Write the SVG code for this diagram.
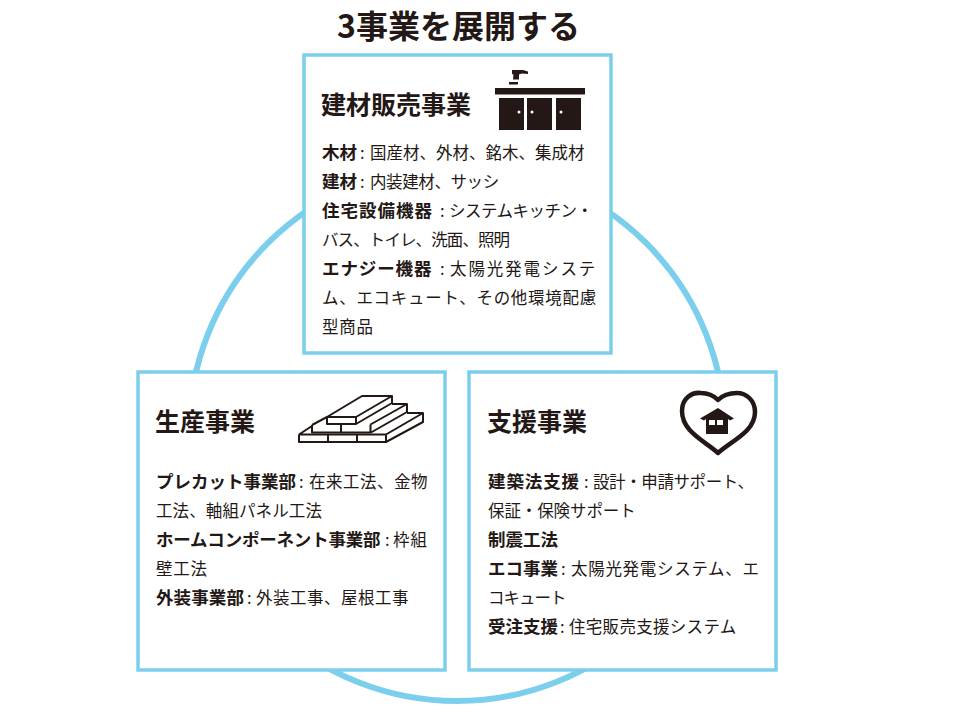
<svg xmlns="http://www.w3.org/2000/svg" width="960" height="720" viewBox="0 0 960 720">
<style>
text{font-family:"Noto Sans CJK JP","Noto Sans",sans-serif;fill:#231815}
.t{font-size:32px;font-weight:700}
.h{font-size:25px;font-weight:700}
.b{font-size:16.500px;font-weight:400}
.s{font-weight:700;font-size:17.500px}
.box{fill:#fff;stroke:#7ccfec;stroke-width:3.5}
.i{fill:none;stroke:#231815;stroke-width:2;stroke-linejoin:round}
</style>
<rect width="960" height="720" fill="#fff"/>
<text class="t" x="337" y="38">3事業を展開する</text>
<g id="connectors"><circle cx="457" cy="433" r="268" fill="none" stroke="#7ccfec" stroke-width="6"/></g>
<g id="node-kenzai">
<rect class="box" x="304" y="55" width="307" height="298"/>
<text class="h" x="321" y="114">建材販売事業</text>
<g fill="#231815">
<rect x="495" y="88" width="90" height="6.500"/>
<rect x="499" y="98" width="25" height="32"/><rect x="527" y="98" width="25" height="32"/><rect x="556" y="98" width="25" height="32"/>
<rect x="509" y="82" width="9" height="2.500"/><path d="M512 70h11l5 1.500v2.500l-6-.5-3 1v5h-6l.5-5-1.500-.5z"/>
</g>
<g fill="#fff"><circle cx="519" cy="112" r="1.500"/><circle cx="532" cy="112" r="1.500"/><circle cx="561" cy="112" r="1.500"/></g>
<text class="b" y="159"><tspan class="s" x="322">木材</tspan><tspan x="360">:</tspan><tspan x="370">国産材、外材、銘木、集成材</tspan></text>
<text class="b" y="188"><tspan class="s" x="322">建材</tspan><tspan x="360">:</tspan><tspan x="370" letter-spacing="-.4">内装建材、サッシ</tspan></text>
<text class="b" y="217"><tspan class="s" x="322" letter-spacing="1">住宅設備機器</tspan><tspan x="440">:</tspan><tspan x="449" letter-spacing="-.5">システムキッチン・</tspan></text>
<text class="b" y="246" x="322" letter-spacing="-.9">バス、トイレ、洗面、照明</text>
<text class="b" y="275"><tspan class="s" x="322" letter-spacing=".9">エナジー機器</tspan><tspan x="440">:</tspan><tspan x="450" letter-spacing="1.900">太陽光発電システ</tspan></text>
<text class="b" y="304" x="322" letter-spacing=".7">ム、エコキュート、その他環境配慮</text>
<text class="b" y="333" x="322" letter-spacing=".8">型商品</text>
</g>
<g id="node-seisan">
<rect class="box" x="138" y="372" width="307" height="298"/>
<text class="h" x="155" y="431">生産事業</text>
<g class="i">
<path d="M327 417L362 396H392L356 417ZM327 417V424H356V417M392 396V403L356 424"/>
<path d="M312 425L327 417M312 425V432.500H370.500V424.500M341 424.500V432.500M370.500 424.500L407 404V412L371 432.500M392 404H407"/>
<path d="M299 434.500L312 426M299 434.500V442H386V434.500H299M328 434.500V442M357 434.500V442M386 434.500L423 413V422L386 442M407 413H423"/>
</g>
<text class="b" y="488"><tspan class="s" x="156">プレカット事業部</tspan><tspan x="299">:</tspan><tspan x="309" letter-spacing=".5">在来工法、金物</tspan></text>
<text class="b" y="517" x="156" letter-spacing=".1">工法、軸組パネル工法</text>
<text class="b" y="546"><tspan class="s" x="156" letter-spacing="-.2">ホームコンポーネント事業部</tspan><tspan x="385">:</tspan><tspan x="393" letter-spacing="1">枠組</tspan></text>
<text class="b" y="575" x="156" letter-spacing=".8">壁工法</text>
<text class="b" y="604"><tspan class="s" x="156" letter-spacing=".1">外装事業部</tspan><tspan x="247">:</tspan><tspan x="256" letter-spacing=".5">外装工事、屋根工事</tspan></text>
</g>
<g id="node-shien">
<rect class="box" x="469" y="372" width="307" height="298"/>
<text class="h" x="487" y="431">支援事業</text>
<path d="M718 453C705 441 682 432 682 411C682 398 692 392 701 393C708 393 714 396 718 400C722 396 729 393 737 393C746 393 755 400 755 412C755 432 731 441 718 453Z" fill="none" stroke="#231815" stroke-width="4.500" stroke-linejoin="round"/>
<path d="M718 408L734 418.500L730 420.500L728 419V434H706V419L704 420.500L700 418.500Z" fill="#231815"/>
<rect x="709" y="420" width="6" height="5" fill="#fff"/><rect x="717" y="420" width="6" height="5" fill="#fff"/>
<text class="b" y="488"><tspan class="s" x="488" letter-spacing=".9">建築法支援</tspan><tspan x="584">:</tspan><tspan x="593" letter-spacing="-.4">設計・申請サポート、</tspan></text>
<text class="b" y="517" x="488" letter-spacing="-.1">保証・保険サポート</text>
<text class="b s" y="546" x="488">制震工法</text>
<text class="b" y="575"><tspan class="s" x="488">エコ事業</tspan><tspan x="561">:</tspan><tspan x="571" letter-spacing=".7">太陽光発電システム、エ</tspan></text>
<text class="b" y="604" x="488" letter-spacing="-1">コキュート</text>
<text class="b" y="633"><tspan class="s" x="488">受注支援</tspan><tspan x="560">:</tspan><tspan x="569" letter-spacing=".3">住宅販売支援システム</tspan></text>
</g>
</svg>
